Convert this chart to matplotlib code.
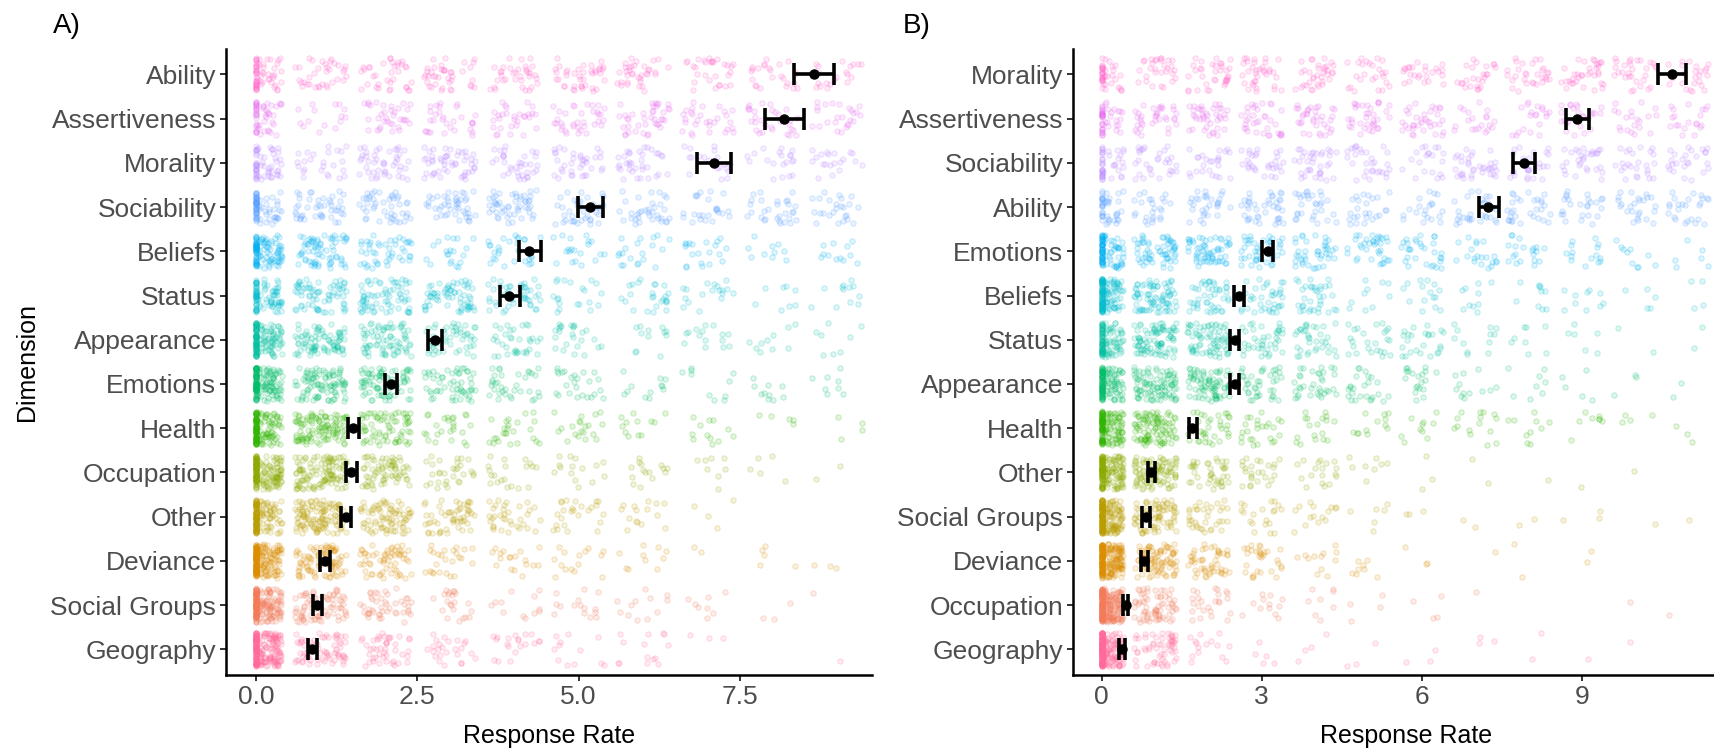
import numpy as np
import matplotlib
matplotlib.use("Agg")
import matplotlib.pyplot as plt

plt.rcParams['font.family'] = ['Liberation Sans', 'DejaVu Sans']

# ---- Panel A data (rows listed top -> bottom) ----
a_dims = ["Ability", "Assertiveness", "Morality", "Sociability", "Beliefs", "Status",
          "Appearance", "Emotions", "Health", "Occupation", "Other", "Deviance",
          "Social Groups", "Geography"]
a_mean = [8.65, 8.18, 7.10, 5.18, 4.24, 3.93, 2.77, 2.09, 1.50, 1.48, 1.40, 1.07, 0.95, 0.87]
a_lo = [8.34, 7.89, 6.84, 4.99, 4.08, 3.78, 2.66, 2.00, 1.42, 1.40, 1.32, 1.00, 0.89, 0.81]
a_hi = [8.96, 8.49, 7.37, 5.38, 4.42, 4.10, 2.89, 2.19, 1.59, 1.56, 1.48, 1.14, 1.02, 0.94]
# number of responses at each value 0..9 (visible part)
a_counts = [
    [60, 35, 35, 40, 35, 40, 35, 30, 25, 20],
    [50, 15, 35, 30, 30, 35, 40, 30, 30, 25],
    [55, 25, 45, 50, 35, 35, 35, 20, 20, 20],
    [70, 45, 45, 45, 50, 40, 35, 25, 30, 25],
    [110, 70, 45, 20, 30, 20, 20, 20, 10, 12],
    [90, 70, 70, 65, 45, 20, 25, 18, 8, 12],
    [140, 85, 75, 50, 35, 25, 12, 15, 10, 8],
    [160, 95, 80, 55, 35, 25, 12, 10, 10, 8],
    [150, 110, 70, 25, 25, 20, 12, 12, 5, 4],
    [170, 120, 70, 30, 20, 15, 15, 8, 5, 2],
    [150, 120, 80, 55, 35, 25, 15, 4, 0, 0],
    [200, 90, 60, 25, 18, 15, 10, 2, 5, 3],
    [210, 80, 45, 22, 12, 15, 12, 8, 3, 1],
    [230, 70, 45, 25, 20, 12, 14, 3, 0, 1],
]
a_ticks = [0, 2.5, 5, 7.5]
a_ticklabels = ["0.0", "2.5", "5.0", "7.5"]

# ---- Panel B data (rows listed top -> bottom) ----
b_dims = ["Morality", "Assertiveness", "Sociability", "Ability", "Emotions", "Beliefs",
          "Status", "Appearance", "Health", "Other", "Social Groups", "Deviance",
          "Occupation", "Geography"]
b_mean = [10.69, 8.92, 7.91, 7.25, 3.11, 2.57, 2.49, 2.49, 1.70, 0.93, 0.82, 0.80, 0.45, 0.38]
b_lo = [10.44, 8.70, 7.72, 7.08, 3.01, 2.48, 2.41, 2.41, 1.63, 0.86, 0.76, 0.74, 0.39, 0.32]
b_hi = [10.96, 9.14, 8.12, 7.45, 3.21, 2.67, 2.58, 2.58, 1.78, 1.00, 0.90, 0.87, 0.50, 0.43]
# number of responses at each value 0..11 (visible part)
b_counts = [
    [40, 30, 35, 35, 35, 25, 25, 25, 30, 35, 30, 25],
    [45, 35, 40, 35, 35, 35, 35, 20, 20, 25, 20, 20],
    [40, 30, 25, 30, 35, 30, 20, 35, 25, 30, 25, 25],
    [40, 25, 30, 40, 30, 25, 20, 30, 30, 25, 25, 25],
    [90, 60, 60, 45, 40, 35, 30, 20, 20, 15, 10, 6],
    [140, 80, 45, 40, 35, 10, 15, 10, 10, 10, 5, 4],
    [110, 90, 75, 40, 35, 25, 25, 12, 8, 6, 2, 2],
    [130, 95, 80, 40, 35, 25, 20, 12, 8, 5, 3, 2],
    [150, 100, 35, 25, 18, 12, 10, 15, 10, 8, 4, 3],
    [170, 100, 40, 25, 18, 8, 3, 2, 1, 1, 1, 0],
    [200, 80, 35, 20, 15, 6, 3, 2, 2, 3, 1, 1],
    [220, 90, 50, 30, 12, 8, 3, 1, 2, 2, 0, 0],
    [250, 70, 25, 12, 8, 4, 4, 1, 0, 0, 1, 1],
    [250, 60, 15, 5, 4, 3, 3, 3, 2, 1, 1, 0],
]
b_ticks = [0, 3, 6, 9]
b_ticklabels = ["0", "3", "6", "9"]


def hcl(h, c=100.0, l=65.0):
    """HCL (polar Luv) to sRGB, like ggplot's hue palette"""
    hr = np.deg2rad(h)
    u, v = c * np.cos(hr), c * np.sin(hr)
    Y = ((l + 16) / 116) ** 3
    Xn, Yn, Zn = 0.95047, 1.0, 1.08883
    un = 4 * Xn / (Xn + 15 * Yn + 3 * Zn)
    vn = 9 * Yn / (Xn + 15 * Yn + 3 * Zn)
    up = u / (13 * l) + un
    vp = v / (13 * l) + vn
    X = Y * 9 * up / (4 * vp)
    Z = Y * (12 - 3 * up - 20 * vp) / (4 * vp)
    M = np.array([[3.2406, -1.5372, -0.4986],
                  [-0.9689, 1.8758, 0.0415],
                  [0.0557, -0.2040, 1.0570]])
    lin = np.clip(M @ np.array([X, Y, Z]), 0, 1)
    rgb = np.where(lin <= 0.0031308, 12.92 * lin, 1.055 * lin ** (1 / 2.4) - 0.055)
    return tuple(np.clip(rgb, 0, 1))


n_rows = len(a_dims)
row_colors = [hcl(-4 + k * 360 / n_rows) for k in range(n_rows)]  # k = 0 is bottom row


def spread(idx, seed):
    """deterministic scatter positions in [0, 1) for the jitter"""
    return (np.sin(idx * 12.9898 + seed * 78.233) * 43758.5453) % 1.0


def draw_panel(ax, dims, means, lo, hi, counts, xlim, ticks, ticklabels, seed):
    n = len(dims)
    start = 0
    for i, row in enumerate(counts):
        ypos = n - 1 - i
        col = row_colors[ypos]
        xs, ys = [], []
        for val, cnt in enumerate(row):
            idx = np.arange(start, start + cnt, dtype=float) + 1
            start += cnt
            x = val + (spread(idx, seed) - 0.5) * 0.8
            if val == 0:
                x = np.maximum(x, 0)
            xs.append(x)
            ys.append(ypos + (spread(idx, seed + 3.7) - 0.5) * 0.76)
        ax.scatter(np.concatenate(xs), np.concatenate(ys), s=15,
                   facecolors=[(*col, 0.13)], edgecolors=[(*col, 0.28)],
                   linewidths=0.6, zorder=2)

    ypos = n - 1 - np.arange(n)
    means = np.array(means)
    err = [means - np.array(lo), np.array(hi) - means]
    ax.errorbar(means, ypos, xerr=err, fmt='o', color='black', ms=6.5,
                elinewidth=2.6, capsize=8, capthick=2.6, zorder=5)

    ax.set_xlim(*xlim)
    ax.set_ylim(-0.58, n - 1 + 0.58)
    ax.set_yticks(ypos)
    ax.set_yticklabels(dims)
    ax.set_xticks(ticks)
    ax.set_xticklabels(ticklabels)
    for side in ['top', 'right']:
        ax.spines[side].set_visible(False)
    for side in ['left', 'bottom']:
        ax.spines[side].set_linewidth(1.8)
        ax.spines[side].set_color('black')
    ax.tick_params(axis='both', labelsize=19, labelcolor='#4D4D4D', color='#333333',
                   length=4, width=1.4, pad=3)
    ax.set_xlabel('Response Rate', fontsize=18, labelpad=11)


fig = plt.figure(figsize=(17.15, 7.5), dpi=100)
axA = fig.add_axes([226 / 1715, 0.1, (872 - 226) / 1715, 0.835])
axB = fig.add_axes([1073 / 1715, 0.1, (1740 - 1073) / 1715, 0.835])

draw_panel(axA, a_dims, a_mean, a_lo, a_hi, a_counts, (-0.465, 9.55), a_ticks, a_ticklabels, 1)
draw_panel(axB, b_dims, b_mean, b_lo, b_hi, b_counts, (-0.54, 11.97), b_ticks, b_ticklabels, 2)
axA.set_ylabel('Dimension', fontsize=18, labelpad=8)

fig.text(53 / 1715, 1 - 26 / 750, 'A)', fontsize=20, va='center', ha='left')
fig.text(903 / 1715, 1 - 26 / 750, 'B)', fontsize=20, va='center', ha='left')

fig.savefig('out.png', dpi=100)
